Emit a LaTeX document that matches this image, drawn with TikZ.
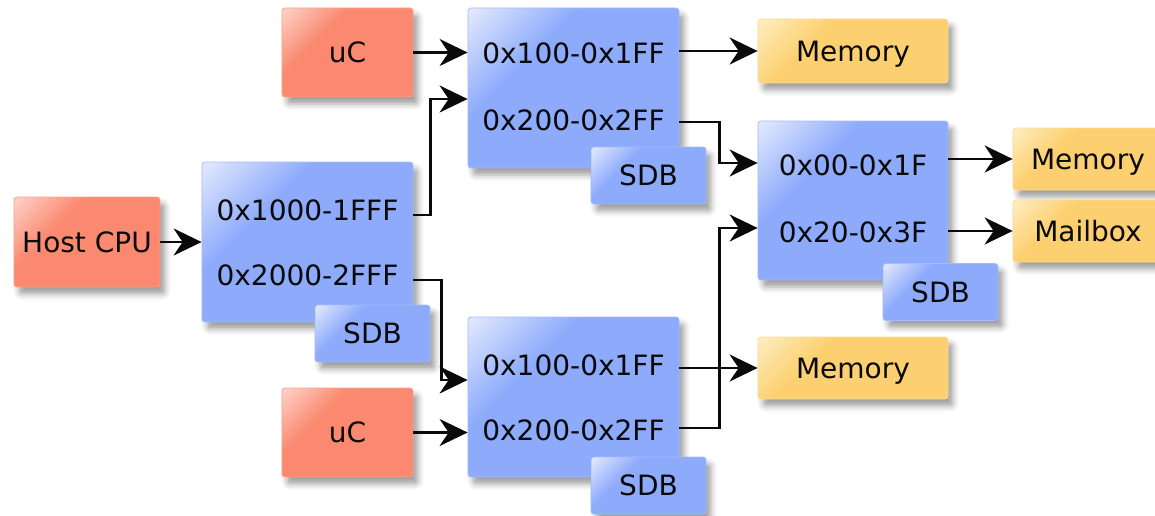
\documentclass[tikz,border=0pt]{standalone}
\usepackage{fontspec}
\setmainfont{DejaVu Sans}
\usetikzlibrary{arrows.meta,shadows.blur}

\definecolor{redbase}{RGB}{250,137,112}
\definecolor{redhi}{RGB}{253,210,200}
\definecolor{bluebase}{RGB}{141,170,251}
\definecolor{bluehi}{RGB}{226,233,254}
\definecolor{yelbase}{RGB}{252,208,112}
\definecolor{yelhi}{RGB}{254,237,192}
\definecolor{ink}{RGB}{10,10,10}

% glossy fills: light in the upper left corner, base colour elsewhere
\pgfdeclarehorizontalshading{glossred}{100bp}{color(0bp)=(redhi); color(15bp)=(redhi); color(36bp)=(redbase); color(100bp)=(redbase)}
\pgfdeclarehorizontalshading{glossblue}{100bp}{color(0bp)=(bluehi); color(15bp)=(bluehi); color(36bp)=(bluebase); color(100bp)=(bluebase)}
\pgfdeclarehorizontalshading{glossyel}{100bp}{color(0bp)=(yelhi); color(15bp)=(yelhi); color(36bp)=(yelbase); color(100bp)=(yelbase)}

\tikzset{
  box/.style={rectangle, rounded corners=3pt, inner sep=0pt, text=ink,
    font=\fontsize{28}{32}\selectfont, text depth=0pt,
    blur shadow={shadow xshift=5pt, shadow yshift=-7pt, shadow blur radius=6pt, shadow opacity=38},
    shading angle=-45},
  redbox/.style={box, shading=glossred, draw=redbase!80!white, line width=0.8pt},
  bluebox/.style={box, shading=glossblue, draw=bluebase!80!white, line width=0.8pt},
  yelbox/.style={box, shading=glossyel, draw=yelbase!75!white, line width=0.8pt},
  sdbbox/.style={bluebox, minimum width=115pt, minimum height=57pt},
  rangelabel/.style={inner sep=0pt, text=ink, font=\fontsize{28}{32}\selectfont},
  conn/.style={draw=ink, line width=2.3pt, -{Stealth[length=28pt, width=27pt, inset=9pt]}},
}

\begin{document}
\begin{tikzpicture}[x=1pt, y=-1pt]
\useasboundingbox (0,0) rectangle (1155,516);

% sources
\node[redbox, minimum width=146pt, minimum height=90pt] (host) at (87,242) {Host CPU};
\node[redbox, minimum width=131pt, minimum height=89pt] (ucA) at (347.5,52.5) {uC};
\node[redbox, minimum width=131pt, minimum height=89pt] (ucB) at (347.5,432.5) {uC};

% crossbar A
\node[bluebox, minimum width=211pt, minimum height=160pt] (A) at (307.5,242) {};
\node[rangelabel] (lA1) at (307.5,210) {0x1000-1FFF};
\node[rangelabel] (lA2) at (307.5,275) {0x2000-2FFF};
\node[sdbbox] (sdbA) at (372.5,333.5) {SDB};

% crossbar B
\node[bluebox, minimum width=211pt, minimum height=160pt] (B) at (573.5,88) {};
\node[rangelabel] (lB1) at (573.5,53) {0x100-0x1FF};
\node[rangelabel] (lB2) at (573.5,120) {0x200-0x2FF};
\node[sdbbox] (sdbB) at (648.5,175.5) {SDB};

% crossbar C
\node[bluebox, minimum width=211pt, minimum height=160pt] (C) at (573.5,397) {};
\node[rangelabel] (lC1) at (573.5,365) {0x100-0x1FF};
\node[rangelabel] (lC2) at (573.5,430) {0x200-0x2FF};
\node[sdbbox] (sdbC) at (648.5,485.5) {SDB};

% crossbar D
\node[bluebox, minimum width=190pt, minimum height=159pt] (D) at (853,200.5) {};
\node[rangelabel] (lD1) at (853,165) {0x00-0x1F};
\node[rangelabel] (lD2) at (853,232) {0x20-0x3F};
\node[sdbbox] (sdbD) at (940.5,292) {SDB};

% slaves
\node[yelbox, minimum width=190pt, minimum height=64pt] (memA) at (853,51) {Memory};
\node[yelbox, minimum width=150pt, minimum height=62pt] (memB) at (1088,159) {Memory};
\node[yelbox, minimum width=150pt, minimum height=62pt] (mail) at (1088,231) {Mailbox};
\node[yelbox, minimum width=190pt, minimum height=62pt] (memC) at (853,368) {Memory};

% connections
\draw[conn] (host.east) -- (A.west);
\draw[conn] (ucA.east) -- (ucA.east -| B.west);
\draw[conn] (ucB.east) -- (ucB.east -| C.west);
\draw[conn] ([yshift=27pt]A.east) -- ++(17,0) |- ([yshift=-11pt]B.west);
\draw[conn] ([yshift=-38pt]A.east) -- ++(28,0) |- ([yshift=17pt]C.west);
\draw[conn] (memA.west -| B.east) -- (memA.west);
\draw[conn] ([yshift=-34pt]B.east) -- ++(40,0) |- ([yshift=37.5pt]D.west);
\draw[conn] (memC.west -| C.east) -- (memC.west);
\draw[conn] ([yshift=-31pt]C.east) -- ++(40,0) |- ([yshift=-27.5pt]D.west);
\draw[conn] (memB.west -| D.east) -- (memB.west);
\draw[conn] (mail.west -| D.east) -- (mail.west);
\end{tikzpicture}
\end{document}
